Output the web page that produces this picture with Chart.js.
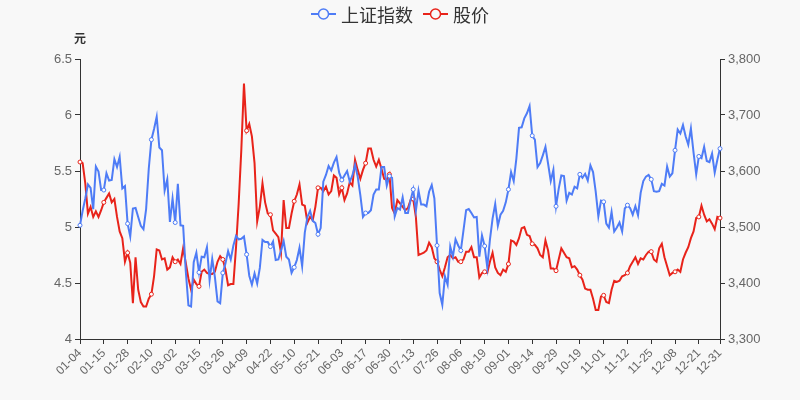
<!DOCTYPE html>
<html lang="zh-CN">
<head>
    <meta charset="UTF-8">
    <title>上证指数 与 股价</title>
    <script src="https://cdn.jsdelivr.net/npm/chart.js"></script>
    <style>
        body { margin: 0; background: #f8f8f8; }
        canvas { display: block; }
    </style>
</head>
<body>
    <canvas id="stockChart" width="800" height="400"></canvas>

    <script>
        // trading days of 2021, one list per month
        const tradingDays = [
            [4,5,6,7,8,11,12,13,14,15,18,19,20,21,22,25,26,27,28,29],
            [1,2,3,4,5,8,9,10,18,19,22,23,24,25,26],
            [1,2,3,4,5,8,9,10,11,12,15,16,17,18,19,22,23,24,25,26,29,30,31],
            [1,2,6,7,8,9,12,13,14,15,16,19,20,21,22,23,26,27,28,29,30],
            [6,7,10,11,12,13,14,17,18,19,20,21,24,25,26,27,28,31],
            [1,2,3,4,7,8,9,10,11,15,16,17,18,21,22,23,24,25,28,29,30],
            [1,2,5,6,7,8,9,12,13,14,15,16,19,20,21,22,23,26,27,28,29,30],
            [2,3,4,5,6,9,10,11,12,13,16,17,18,19,20,23,24,25,26,27,30,31],
            [1,2,3,6,7,8,9,10,13,14,15,16,17,22,23,24,27,28,29,30],
            [8,11,12,13,14,15,18,19,20,21,22,25,26,27,28,29],
            [1,2,3,4,5,8,9,10,11,12,15,16,17,18,19,22,23,24,25,26,29,30],
            [1,2,3,6,7,8,9,10,13,14,15,16,17,20,21,22,23,24,27,28,29,30,31]
        ];
        const labelStep = 9;

        // 上证指数 (right axis)
        const indexValues = [
            3503, 3529, 3551, 3576, 3570, 3532, 3608, 3599, 3566, 3566, 3596, 3583, 3584, 3621, 3607, 3625, 3569, 3573, 3506, 3483,
            3533, 3534, 3518, 3502, 3496, 3532, 3604, 3656, 3675, 3697, 3642, 3637, 3565, 3585, 3509,
            3551, 3508, 3577, 3503, 3502, 3421, 3360, 3358, 3437, 3454, 3419, 3447, 3446, 3464, 3405, 3443, 3411, 3367, 3364, 3418, 3435, 3457, 3442,
            3467, 3484, 3478, 3479, 3483, 3451, 3413, 3397, 3417, 3399, 3427, 3477, 3473, 3473, 3465, 3474, 3441, 3442, 3458, 3475, 3447,
            3442, 3418, 3428, 3441, 3463, 3430, 3490, 3518, 3529, 3511, 3507, 3487, 3498, 3581, 3593, 3609, 3601, 3615,
            3625, 3597, 3584, 3592, 3600, 3581, 3592, 3611, 3590, 3557, 3518, 3525, 3525, 3530, 3558, 3567, 3567, 3607, 3607, 3574, 3591,
            3588, 3519, 3534, 3531, 3553, 3525, 3525, 3548, 3567, 3529, 3565, 3540, 3540, 3537, 3563, 3575, 3551, 3467, 3382, 3361, 3412, 3397,
            3465, 3447, 3478, 3467, 3458, 3494, 3530, 3532, 3525, 3517, 3518, 3447, 3485, 3466, 3428, 3477, 3515, 3541, 3502, 3522, 3529, 3544,
            3567, 3598, 3582, 3622, 3677, 3678, 3694, 3703, 3716, 3663, 3656, 3607, 3614, 3628, 3643, 3613, 3582, 3602, 3537, 3568,
            3592, 3591, 3547, 3561, 3558, 3572, 3569, 3594, 3588, 3595, 3583, 3610, 3598, 3563, 3519, 3547,
            3545, 3506, 3499, 3527, 3492, 3499, 3508, 3492, 3533, 3539, 3534, 3522, 3537, 3521, 3561, 3582, 3590, 3593, 3585, 3564, 3563, 3564,
            3577, 3574, 3608, 3590, 3596, 3637, 3674, 3667, 3682, 3662, 3647, 3676, 3633, 3594, 3626, 3623, 3643, 3618, 3616, 3631, 3597, 3620, 3640
        ];

        // 股价 in 元 (left axis)
        const priceValues = [
            5.58, 5.57, 5.39, 5.12, 5.18, 5.09, 5.14, 5.09, 5.15, 5.22,
            5.26, 5.30, 5.22, 5.25, 5.09, 4.96, 4.90, 4.69, 4.77, 4.68,
            4.32, 4.73, 4.44, 4.33, 4.29, 4.29, 4.36, 4.40, 4.56, 4.80,
            4.79, 4.71, 4.72, 4.62, 4.64, 4.73, 4.69, 4.71, 4.67, 4.81,
            4.68, 4.54, 4.44, 4.53, 4.49, 4.47, 4.60, 4.62, 4.59, 4.58,
            4.58, 4.60, 4.69, 4.74, 4.71, 4.62, 4.48, 4.49, 4.49, 4.82,
            5.21, 5.69, 6.28, 5.86, 5.92, 5.81, 5.57, 5.05, 5.18, 5.39,
            5.22, 5.12, 5.11, 4.97, 4.94, 4.91, 4.77, 5.24, 4.99, 4.99,
            5.12, 5.23, 5.29, 5.38, 5.20, 5.19, 5.04, 5.09, 5.06, 5.18,
            5.35, 5.35, 5.32, 5.36, 5.29, 5.32, 5.46, 5.44, 5.29, 5.35,
            5.24, 5.30, 5.40, 5.37, 5.60, 5.51, 5.43, 5.51, 5.57, 5.70,
            5.70, 5.60, 5.54, 5.60, 5.52, 5.43, 5.42, 5.47, 5.17, 5.12,
            5.24, 5.21, 5.18, 5.15, 5.17, 5.24, 5.25, 5.09, 4.75, 4.76,
            4.77, 4.79, 4.86, 4.82, 4.72, 4.69, 4.62, 4.56, 4.64, 4.73,
            4.75, 4.72, 4.73, 4.69, 4.69, 4.71, 4.78, 4.78, 4.82, 4.73,
            4.73, 4.55, 4.59, 4.60, 4.59, 4.69, 4.77, 4.64, 4.59, 4.57,
            4.62, 4.60, 4.67, 4.88, 4.87, 4.84, 4.90, 4.99, 5.00, 4.93,
            4.92, 4.85, 4.84, 4.81, 4.75, 4.73, 4.88, 4.79, 4.63, 4.63,
            4.61, 4.71, 4.81, 4.77, 4.73, 4.72, 4.64, 4.65, 4.62, 4.57,
            4.53, 4.45, 4.44, 4.44, 4.36, 4.26, 4.26, 4.38, 4.39, 4.33,
            4.32, 4.44, 4.52, 4.51, 4.52, 4.56, 4.57, 4.59, 4.65, 4.69,
            4.73, 4.67, 4.72, 4.71, 4.75, 4.78, 4.78, 4.71, 4.69, 4.81,
            4.85, 4.73, 4.65, 4.57, 4.59, 4.60, 4.62, 4.60, 4.71, 4.77,
            4.82, 4.90, 4.96, 5.08, 5.09, 5.19, 5.11, 5.05, 5.07, 5.03,
            4.98, 5.09, 5.08
        ];

        const pad = n => String(n).padStart(2, '0');
        const dates = tradingDays.flatMap((days, m) => days.map(d => pad(m + 1) + '-' + pad(d)));
        const lastIdx = dates.length - 1;
        const isLabelled = i => i % labelStep === 0 || i === lastIdx;

        const BLUE = '#4e7cf6';
        const RED = '#e8231a';
        const BG = '#f8f8f8';
        const axisColor = '#333';

        // background, legend and unit label
        const decor = {
            id: 'decor',
            beforeDraw(chart) {
                const c = chart.ctx;
                c.save();
                c.fillStyle = BG;
                c.fillRect(0, 0, chart.width, chart.height);
                c.restore();
            },
            afterDraw(chart) {
                const c = chart.ctx;
                c.save();
                c.font = '18px "Noto Sans CJK SC", sans-serif';
                c.textBaseline = 'middle';
                const items = [['上证指数', BLUE], ['股价', RED]];
                const widths = items.map(it => c.measureText(it[0]).width);
                let total = 0;
                widths.forEach(w => total += 25 + 5 + w);
                total += 10;
                let x = 400 - total / 2;
                const y = 14;
                items.forEach((it, k) => {
                    c.strokeStyle = it[1];
                    c.lineWidth = 2;
                    c.beginPath();
                    c.moveTo(x, y);
                    c.lineTo(x + 25, y);
                    c.stroke();
                    c.beginPath();
                    c.arc(x + 12.5, y, 5, 0, Math.PI * 2);
                    c.fillStyle = BG;
                    c.fill();
                    c.lineWidth = 1.5;
                    c.stroke();
                    c.fillStyle = '#333';
                    c.textAlign = 'left';
                    c.fillText(it[0], x + 30, y + 1);
                    x += 30 + widths[k] + 10;
                });
                c.font = 'bold 12px "Noto Sans CJK SC", sans-serif';
                c.textAlign = 'center';
                c.fillText('元', 80, 38);
                c.restore();
            }
        };

        const ctx = document.getElementById('stockChart').getContext('2d');
        new Chart(ctx, {
            type: 'line',
            data: {
                labels: dates,
                datasets: [{
                    label: '上证指数',
                    data: indexValues,
                    yAxisID: 'y1',
                    borderColor: BLUE,
                    borderWidth: 2,
                    pointRadius: c => isLabelled(c.dataIndex) ? 2 : 0,
                    pointBackgroundColor: '#fff',
                    pointBorderColor: BLUE,
                    pointBorderWidth: 1,
                    tension: 0
                }, {
                    label: '股价',
                    data: priceValues,
                    yAxisID: 'y',
                    borderColor: RED,
                    borderWidth: 2,
                    pointRadius: c => isLabelled(c.dataIndex) ? 2 : 0,
                    pointBackgroundColor: '#fff',
                    pointBorderColor: RED,
                    pointBorderWidth: 1,
                    tension: 0
                }]
            },
            options: {
                responsive: false,
                animation: false,
                events: [],
                layout: { padding: { top: 59, left: 0, right: 0, bottom: 0 } },
                plugins: {
                    legend: { display: false },
                    tooltip: { enabled: false }
                },
                scales: {
                    x: {
                        offset: false,
                        grid: { drawOnChartArea: false, tickLength: 5, color: axisColor },
                        border: { color: axisColor },
                        ticks: {
                            autoSkip: false,
                            minRotation: 45,
                            maxRotation: 45,
                            padding: 2,
                            color: '#666',
                            font: { size: 12, family: '"Liberation Sans", Arial, sans-serif' },
                            callback: (v, i) => isLabelled(i) ? dates[i] : null
                        },
                        afterFit: s => { s.height = 61; }
                    },
                    y: {
                        position: 'left',
                        min: 4,
                        max: 6.5,
                        grid: { drawOnChartArea: false, tickLength: 5, color: axisColor },
                        border: { color: axisColor },
                        ticks: {
                            stepSize: 0.5,
                            padding: 3,
                            color: '#666',
                            font: { size: 13, family: '"Liberation Sans", Arial, sans-serif' },
                            callback: v => String(v)
                        },
                        afterFit: s => { s.width = 80; }
                    },
                    y1: {
                        position: 'right',
                        min: 3300,
                        max: 3800,
                        grid: { drawOnChartArea: false, tickLength: 5, color: axisColor },
                        border: { color: axisColor },
                        ticks: {
                            stepSize: 100,
                            padding: 3,
                            color: '#666',
                            font: { size: 13, family: '"Liberation Sans", Arial, sans-serif' }
                        },
                        afterFit: s => { s.width = 80; }
                    }
                }
            },
            plugins: [decor]
        });
    </script>
</body>
</html>
